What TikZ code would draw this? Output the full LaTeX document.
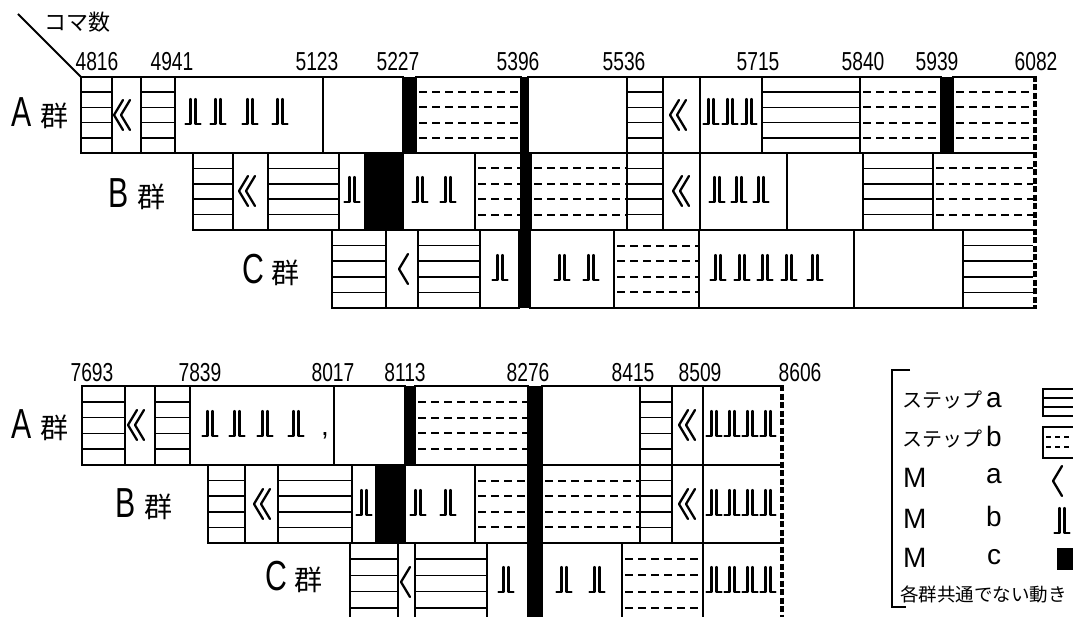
\documentclass[tikz,border=0pt]{standalone}
\usepackage{graphicx}
\usepackage{fontspec}
\setmainfont{Liberation Sans}
\newfontfamily\jp{Noto Sans CJK JP}
\newcommand\nm[1]{\scalebox{0.74}[1]{\fontsize{26}{26}\selectfont #1}}
\newcommand\grp[1]{\scalebox{0.72}[1]{\fontsize{42}{42}\selectfont #1}\hspace{8pt}{\jp\fontsize{28}{28}\selectfont 群}}
\newcommand\hs[4]{%
  \foreach \k in {1,2,3,4}{\draw[hatchs] (#1,{#3+(#4-#3)*\k/5}) -- (#2,{#3+(#4-#3)*\k/5});}
  \draw[cellb] (#1,#3) rectangle (#2,#4);}
\newcommand\hd[4]{%
  \foreach \k in {1,2,3,4}{\draw[hatchd] ({#1+3},{#3+(#4-#3)*\k/5}) -- (#2,{#3+(#4-#3)*\k/5});}
  \draw[cellb] (#1,#3) rectangle (#2,#4);}
\newcommand\bx[4]{\draw[cellb] (#1,#3) rectangle (#2,#4);}
\newcommand\bk[4]{\fill (#1,#3) rectangle (#2,#4);}
\newcommand\chevA[2]{\draw[glyph] ({#1+5},{#2-15}) -- ({#1-4},{#2}) -- ({#1+5},{#2+15});}
\newcommand\chevB[2]{\chevA{#1-3}{#2}\chevA{#1+4}{#2}}
\newcommand\jl[2]{%
  \foreach \xx in {#2}{%
    \draw[glyph] ({\xx-2.5},{#1-13}) -- ({\xx-2.5},{#1+12}) -- ({\xx-7.5},{#1+12});
    \draw[glyph] ({\xx+2.5},{#1-13}) -- ({\xx+2.5},{#1+12}) -- ({\xx+7.5},{#1+12});}}
\begin{document}
\begin{tikzpicture}[x=1pt,y=-1pt,
  cellb/.style={line width=1.9pt, line join=miter},
  hatchs/.style={line width=1.5pt},
  hatchd/.style={line width=1.9pt, dash pattern=on 8pt off 5pt},
  glyph/.style={line width=2.3pt, line cap=round, line join=round},
  edged/.style={line width=3.2pt, dash pattern=on 6pt off 2.5pt},
  lbl/.style={inner sep=0pt, anchor=center}]
\useasboundingbox (0,0) rectangle (1073,617);
\clip (0,0) rectangle (1073,617);
\fill[white] (0,0) rectangle (1073,617);

% ---------- header ----------
\node[lbl] (koma) at (77,22) {\jp\fontsize{22}{22}\selectfont コマ数};
\coordinate (diagA) at (18,14);
\coordinate (diagB) at (81,77);
\draw[line width=1.8pt] (diagA) -- (diagB);

% top numbers
\node[lbl] (t1) at (97,62) {\nm{4816}};
\node[lbl] (t2) at (172,62) {\nm{4941}};
\node[lbl] (t3) at (317,62) {\nm{5123}};
\node[lbl] (t4) at (398,62) {\nm{5227}};
\node[lbl] (t5) at (518,62) {\nm{5396}};
\node[lbl] (t6) at (624,62) {\nm{5536}};
\node[lbl] (t7) at (758,62) {\nm{5715}};
\node[lbl] (t8) at (863,62) {\nm{5840}};
\node[lbl] (t9) at (937,62) {\nm{5939}};
\node[lbl] (t10) at (1036,62) {\nm{6082}};

% row labels top
\node[lbl] (gA1) at (40,113) {\grp{A}};
\node[lbl] (gB1) at (137,194) {\grp{B}};
\node[lbl] (gC1) at (271,270) {\grp{C}};

% ---------- top A row (77-153) ----------
\hs{81}{112}{77}{153}
\bx{112}{141}{77}{153} \chevB{121}{115}
\hs{141}{175}{77}{153}
\bx{175}{323}{77}{153} \jl{112}{193,218,250,280}
\bx{323}{403}{77}{153}
\bk{403}{416}{77}{153}
\hd{416}{521}{77}{153}
\bk{521}{528}{77}{153}
\bx{528}{627}{77}{153}
\hs{627}{663}{77}{153}
\bx{663}{700}{77}{153} \chevB{677}{115}
\bx{700}{762}{77}{153} \jl{112}{711,730,749}
\hs{762}{860}{77}{153}
\hd{860}{941}{77}{153}
\bk{941}{953}{77}{153}
\hd{953}{1035}{77}{153}

% ---------- top B row (153-230) ----------
\hs{193}{233}{153}{230}
\bx{233}{268}{153}{230} \chevB{246}{191}
\hs{268}{339}{153}{230}
\bx{339}{365}{153}{230} \jl{190}{352}
\bk{365}{403}{153}{230}
\bx{403}{475}{153}{230} \jl{190}{420,448}
\hd{475}{521}{153}{230}
\bk{521}{531}{153}{230}
\hd{531}{627}{153}{230}
\hs{627}{663}{153}{230}
\bx{663}{700}{153}{230} \chevB{680}{191}
\bx{700}{787}{153}{230} \jl{190}{717,739,761}
\bx{787}{863}{153}{230}
\hs{863}{933}{153}{230}
\hd{933}{1035}{153}{230}

% ---------- top C row (230-308) ----------
\hs{332}{386}{230}{308}
\bx{386}{418}{230}{308} \chevA{403}{269}
\hs{418}{480}{230}{308}
\bx{480}{519}{230}{308} \jl{268}{500}
\bk{519}{530}{230}{308}
\bx{530}{614}{230}{308} \jl{268}{562,591}
\hd{614}{699}{230}{308}
\bx{699}{854}{230}{308} \jl{268}{718,742,765,789,815}
\bx{854}{963}{230}{308}
\hs{963}{1035}{230}{308}

\draw[white, line width=3.6pt] (1035,76) -- (1035,309);
\draw[edged] (1035,76) -- (1035,309);

% ---------- bottom numbers ----------
\node[lbl] (b1) at (92,373) {\nm{7693}};
\node[lbl] (b2) at (200,373) {\nm{7839}};
\node[lbl] (b3) at (333,373) {\nm{8017}};
\node[lbl] (b4) at (405,373) {\nm{8113}};
\node[lbl] (b5) at (528,373) {\nm{8276}};
\node[lbl] (b6) at (633,373) {\nm{8415}};
\node[lbl] (b7) at (700,373) {\nm{8509}};
\node[lbl] (b8) at (800,373) {\nm{8606}};

\node[lbl] (gA2) at (40,425) {\grp{A}};
\node[lbl] (gB2) at (144,504) {\grp{B}};
\node[lbl] (gC2) at (294,577) {\grp{C}};

% ---------- bottom A row (386-465) ----------
\hs{82}{125}{386}{465}
\bx{125}{155}{386}{465} \chevB{135}{425}
\hs{155}{190}{386}{465}
\bx{190}{334}{386}{465} \jl{424}{210,237,265,296}
\node[lbl] (comma) at (325,436) {\fontsize{28}{28}\selectfont ,};
\bx{334}{405}{386}{465}
\bk{405}{415}{386}{465}
\hd{415}{528}{386}{465}
\bk{528}{542}{386}{465}
\bx{542}{640}{386}{465}
\hs{640}{672}{386}{465}
\bx{672}{703}{386}{465} \chevB{686}{425}
\bx{703}{782}{386}{465} \jl{424}{714,732,750,768}

% ---------- bottom B row (465-543) ----------
\hs{208}{245}{465}{543}
\bx{245}{278}{465}{543} \chevB{261}{504}
\hs{278}{352}{465}{543}
\bx{352}{376}{465}{543} \jl{503}{364}
\bk{376}{405}{465}{543}
\bx{405}{475}{465}{543} \jl{503}{418,448}
\hd{475}{528}{465}{543}
\bk{528}{542}{465}{543}
\hd{542}{640}{465}{543}
\hs{640}{672}{465}{543}
\bx{672}{703}{465}{543} \chevB{686}{504}
\bx{703}{782}{465}{543} \jl{503}{714,732,750,768}

% ---------- bottom C row (543-) ----------
\hs{350}{398}{543}{624}
\bx{398}{415}{543}{624} \chevA{405}{582}
\hs{415}{487}{543}{624}
\bx{487}{528}{543}{624} \jl{580}{506}
\bk{528}{542}{543}{624}
\bx{542}{622}{543}{624} \jl{580}{564,597}
\hd{622}{703}{543}{624}
\bx{703}{782}{543}{624} \jl{580}{714,732,750,768}

\draw[white, line width=3.6pt] (782,385) -- (782,620);
\draw[edged] (782,385) -- (782,620);

% ---------- legend ----------
\coordinate (brA) at (910,370);
\coordinate (brB) at (892,370);
\coordinate (brC) at (892,607);
\coordinate (brD) at (906,607);
\draw[line width=1.8pt] (brA) -- (brB) -- (brC) -- (brD);

\node[lbl, anchor=west] (L1) at (902,400) {{\jp\fontsize{20}{20}\selectfont ステップ}\hspace{4pt}{\fontsize{28}{28}\selectfont a}};
\node[lbl, anchor=west] (L2) at (902,437) {{\jp\fontsize{20}{20}\selectfont ステップ}\hspace{4pt}{\fontsize{28}{28}\selectfont b}};
\node[lbl, anchor=west] (L3a) at (903,478) {\fontsize{28}{28}\selectfont M};
\node[lbl] (L3b) at (994,476) {\fontsize{28}{28}\selectfont a};
\node[lbl, anchor=west] (L4a) at (903,519) {\fontsize{28}{28}\selectfont M};
\node[lbl] (L4b) at (994,516) {\fontsize{28}{28}\selectfont b};
\node[lbl, anchor=west] (L5a) at (903,558) {\fontsize{28}{28}\selectfont M};
\node[lbl] (L5b) at (994,557) {\fontsize{28}{28}\selectfont c};
\node[lbl, anchor=west] (L6) at (900,594) {\jp\fontsize{18.5}{18.5}\selectfont 各群共通でない動き};

% legend symbols
\draw[hatchs] (1043,398) -- (1090,398);
\draw[hatchs] (1043,407) -- (1090,407);
\draw[cellb] (1043,389) rectangle (1090,416);
\draw[hatchd, dash pattern=on 5pt off 4pt] (1046,437) -- (1090,437);
\draw[hatchd, dash pattern=on 5pt off 4pt] (1046,447) -- (1090,447);
\draw[cellb] (1043,427) rectangle (1090,458);
\chevA{1057}{481}
\jl{521}{1062}
\bk{1057}{1090}{548}{570}
\end{tikzpicture}
\end{document}
